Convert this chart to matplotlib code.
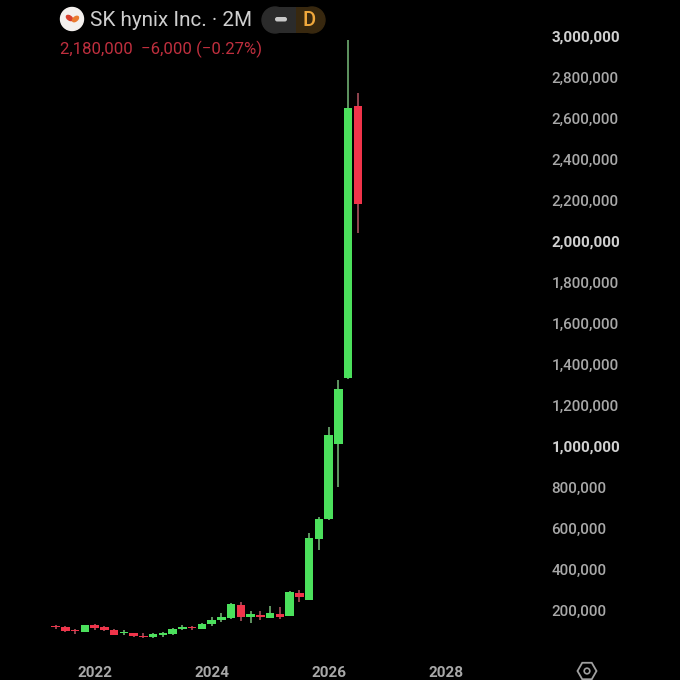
import numpy as np
import matplotlib
matplotlib.use('Agg')
import matplotlib.pyplot as plt
from matplotlib.patches import Circle, FancyBboxPatch, RegularPolygon, Ellipse

# 2 month candles, first one is May 2021
opens = [123000, 121000, 106000, 97000, 128000, 120000, 106000, 90000, 89000, 77000, 69000, 82000,
         84000, 110000, 121000, 111000, 136000, 154000, 162000, 228000, 167000, 180000, 165000, 184000,
         173000, 287000, 253000, 548000, 646000, 1012000, 1331000, 2660000]
highs = [129000, 127000, 110000, 129000, 132000, 124000, 110000, 105000, 93000, 93000, 90000, 95000,
         117000, 129000, 127000, 137000, 168000, 188000, 237000, 241000, 200000, 198000, 224000, 215000,
         293000, 302000, 576000, 656000, 1094000, 1323000, 2981000, 2722000]
lows = [110000, 95000, 86000, 95000, 105000, 100000, 81000, 81000, 71000, 68000, 68000, 71000,
        81000, 105000, 107000, 110000, 124000, 144000, 158000, 149000, 141000, 154000, 163000, 159000,
        171000, 241000, 251000, 495000, 643000, 803000, 1328000, 2040000]
closes = [118000, 100000, 102000, 128000, 116000, 106000, 82000, 95000, 74000, 69000, 86000, 89000,
          110000, 118000, 113000, 134000, 152000, 170000, 232000, 167000, 181000, 167000, 186000, 167000,
          289000, 265000, 555000, 647000, 1055000, 1279000, 2647000, 2180000]

year_pos = [4, 16, 28, 40]
year_labels = ['2022', '2024', '2026', '2028']
price_ticks = list(range(200000, 3000001, 200000))
bold_ticks = [1000000, 2000000, 3000000]

green = '#4be05c'
red = '#f0344a'
wick_green = '#6fae72'
wick_red = '#a8505c'

plt.rcParams['font.family'] = ['Roboto', 'DejaVu Sans']

fig = plt.figure(figsize=(6.8, 6.8), dpi=100, facecolor='black')
ax = fig.add_axes([0, 20/680, 548/680, 660/680], facecolor='black')

x = np.arange(len(opens))
o = np.array(opens)
c = np.array(closes)
up = c >= o
ax.vlines(x[up], np.array(lows)[up], np.array(highs)[up], color=wick_green, lw=1.2, zorder=2)
ax.vlines(x[~up], np.array(lows)[~up], np.array(highs)[~up], color=wick_red, lw=1.2, zorder=2)
ax.bar(x, np.abs(c - o), bottom=np.minimum(o, c), width=0.88,
       color=[green if u else red for u in up], zorder=3)

ax.set_xlim(-5.70, 50.5)
ax.set_ylim(-41000, 3175000)
for s in ax.spines.values():
    s.set_visible(False)

ax.yaxis.tick_right()
ax.set_yticks(price_ticks)
ax.set_yticklabels([f'{p:,}' for p in price_ticks])
ax.tick_params(axis='y', length=0, pad=2.5, labelsize=11, labelcolor='#a8a8a8')
for lab, p in zip(ax.get_yticklabels(), price_ticks):
    if p in bold_ticks:
        lab.set_fontweight('bold')
        lab.set_color('#d0d0d0')
    else:
        lab.set_fontweight('medium')

ax.set_xticks(year_pos)
ax.set_xticklabels(year_labels)
ax.tick_params(axis='x', length=0, pad=4.5, labelsize=11, labelcolor='#a8a8a8')
for lab in ax.get_xticklabels():
    lab.set_fontweight('bold')

# header and icons, in pixel coords
ov = fig.add_axes([0, 0, 1, 1], facecolor='none')
ov.set_xlim(0, 680)
ov.set_ylim(680, 0)
ov.axis('off')

ov.add_patch(Circle((72, 19), 11.5, color='#f4f0ee'))
ov.add_patch(Ellipse((69.5, 18), 7, 4, angle=35, color='#d8402f'))
ov.add_patch(Ellipse((75.5, 19), 7, 4, angle=-40, color='#ea7a30'))
ov.text(90, 20.5, 'SK hynix Inc. · 2M', color='#cfcfcf', fontsize=14.9, va='center', ha='left')
ov.text(60, 49, '2,180,000  −6,000 (−0.27%)', color='#bf2f3e', fontsize=12.1, va='center', ha='left')

ov.add_patch(FancyBboxPatch((275, 7), 38, 26, boxstyle='round,pad=0,rounding_size=0', color='#2b2b2b', lw=0))
ov.add_patch(Circle((275, 20), 13, color='#2b2b2b'))
ov.add_patch(FancyBboxPatch((296, 7), 17, 26, boxstyle='square,pad=0', color='#38280f', lw=0))
ov.add_patch(Circle((312, 20), 13, color='#38280f'))
ov.add_patch(FancyBboxPatch((275, 17), 12, 4.5, boxstyle='round,pad=0,rounding_size=2.2', color='#c8c8c8', lw=0))
ov.text(309, 20.5, 'D', color='#f0a83c', fontsize=14.5, fontweight='medium', va='center', ha='center')

ov.add_patch(RegularPolygon((587, 671), 6, radius=9.5, orientation=np.pi/6, fill=False, ec='#a0a0a0', lw=1.3))
ov.add_patch(Circle((587, 671), 2.8, fill=False, ec='#a0a0a0', lw=1.2))

fig.savefig('out.png', dpi=100, facecolor='black')
